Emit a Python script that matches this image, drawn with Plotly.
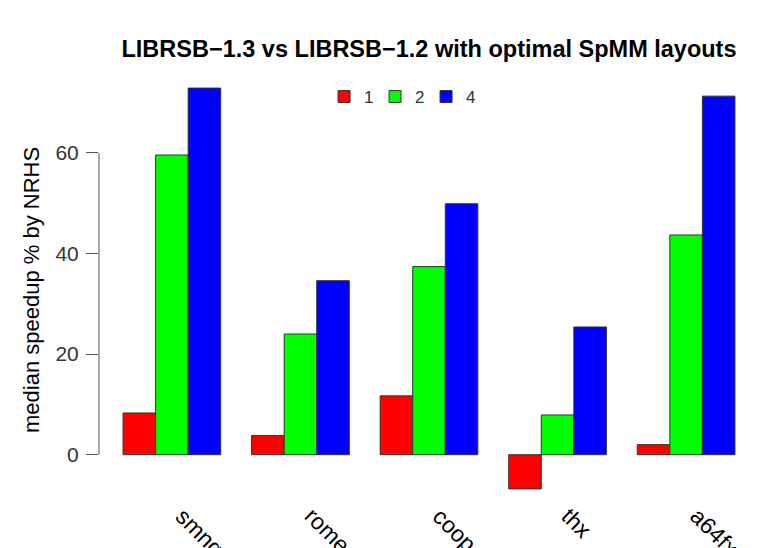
import plotly.graph_objects as go

categories = ["smng", "rome", "coop", "thx", "a64fx"]
series_names = ["1", "2", "4"]
values_1 = [8.3, 3.8, 11.7, -6.8, 2.0]
values_2 = [59.6, 24.0, 37.4, 7.9, 43.7]
values_4 = [72.9, 34.6, 49.9, 25.4, 71.3]
colors = ["#FF0000", "#00FF00", "#0000FF"]
y_ticks = [0, 20, 40, 60]

FONT = "Liberation Sans, Arial, sans-serif"

fig = go.Figure()
for name, vals, col in zip(series_names, [values_1, values_2, values_4], colors):
    fig.add_trace(go.Bar(
        x=categories, y=vals, name=name,
        marker=dict(color=col, line=dict(color="#333333", width=1)),
    ))

x_label_annotations = [
    dict(text=c, x=c, xref="x", y=0, yref="paper",
         xanchor="left", yanchor="top", textangle=45, showarrow=False,
         xshift=-4, yshift=5,
         font=dict(size=23, family=FONT, color="black"))
    for c in categories
]

fig.update_layout(
    width=782, height=548,
    margin=dict(l=99, r=23, t=72, b=43),
    paper_bgcolor="white", plot_bgcolor="white",
    barmode="group", bargap=0.24, bargroupgap=0,
    font=dict(family=FONT, color="black"),
    title=dict(
        text="<b>LIBRSB\u22121.3 vs LIBRSB\u22121.2 with optimal SpMM layouts</b>",
        x=0.5, xref="paper", xanchor="center",
        y=1 - 49 / 548, yref="container", yanchor="middle",
        font=dict(size=23.5, family=FONT, color="black"),
    ),
    showlegend=True,
    legend=dict(
        orientation="h", x=0.341, xanchor="left", y=1 - (97 - 72) / 433, yanchor="middle",
        font=dict(size=17, family=FONT, color="#333333"),
        bgcolor="rgba(0,0,0,0)", traceorder="normal",
        entrywidth=6, entrywidthmode="pixels", itemclick=False,
    ),
    xaxis=dict(
        range=[-0.567, 4.567], showgrid=False, zeroline=False, showline=False,
        ticks="", showticklabels=False, automargin=False,
    ),
    yaxis=dict(
        range=[-10, 76.1], showgrid=False, zeroline=False, showline=False,
        tickvals=y_ticks, ticks="outside", ticklen=12, tickcolor="#555555", tickwidth=1,
        ticklabelstandoff=3, automargin=False,
        tickfont=dict(size=21, family=FONT, color="#333333"),
    ),
    shapes=[dict(type="line", xref="paper", yref="y", x0=0, x1=0, y0=0, y1=60,
                 line=dict(color="#555555", width=1))],
    annotations=[dict(
        text="median speedup % by NRHS", xref="paper", yref="paper",
        x=(31 - 99) / 660, y=(505 - 290) / 433, xanchor="center", yanchor="middle",
        textangle=-90, showarrow=False, font=dict(size=22, family=FONT, color="black"),
    )] + x_label_annotations,
)

fig.write_html("out.html")
